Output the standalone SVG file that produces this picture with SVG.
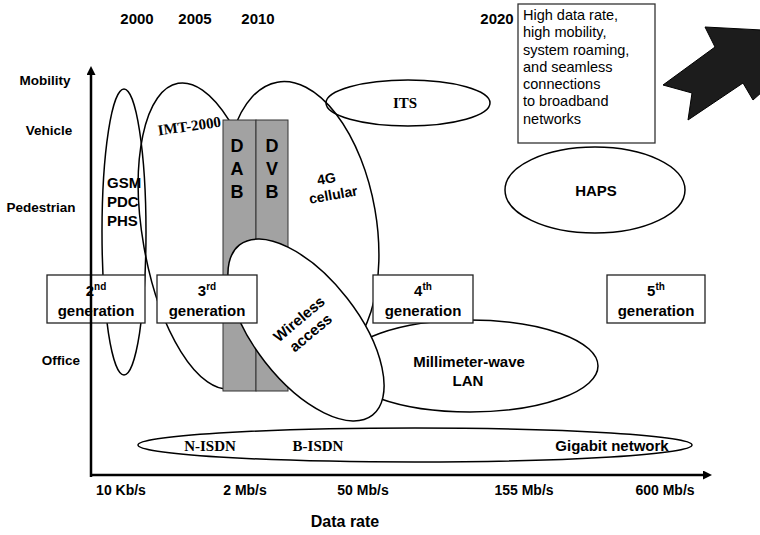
<svg xmlns="http://www.w3.org/2000/svg" width="760" height="535" viewBox="0 0 760 535">
<defs>
<style>
.b{font-family:"Liberation Sans",Arial,sans-serif;font-weight:bold;fill:#000}
.s{font-family:"Liberation Serif","Times New Roman",serif;font-weight:bold;fill:#000}
.n{font-family:"Liberation Sans",Arial,sans-serif;fill:#000}
.el{fill:none;stroke:#000;stroke-width:1.5}
.wf{fill:#fff;stroke:#000;stroke-width:1.5}
.box{fill:#fff;stroke:#222;stroke-width:1.3}
.gray{fill:#a2a2a2;stroke:#333;stroke-width:1}
.ax{stroke:#000;stroke-width:2.5;fill:none}
</style>
<marker id="ah" viewBox="0 0 10 10" refX="0" refY="5" markerWidth="10" markerHeight="9" markerUnits="userSpaceOnUse" orient="auto">
<path d="M0,0 L10,5 L0,10 z" fill="#000"/>
</marker>
</defs>
<rect width="760" height="535" fill="#fff"/>

<g id="years" class="b" font-size="15" text-anchor="middle">
<text x="137" y="24">2000</text>
<text x="195" y="24">2005</text>
<text x="258" y="24">2010</text>
<text x="497" y="24">2020</text>
</g>

<g id="y-labels" class="b" font-size="13.5" text-anchor="middle">
<text x="45" y="85">Mobility</text>
<text x="49" y="135">Vehicle</text>
<text x="41" y="212">Pedestrian</text>
<text x="61" y="365">Office</text>
</g>

<g id="gsm">
<ellipse class="el" cx="124" cy="232" rx="22" ry="143"/>
<text class="b" font-size="15"><tspan x="107" y="188">GSM</tspan><tspan x="107" y="207">PDC</tspan><tspan x="107" y="226">PHS</tspan></text>
</g>

<g id="imt2000">
<ellipse class="el" cx="205" cy="236" rx="62" ry="155" transform="rotate(-10 205 236)"/>
<text class="s" font-size="15" text-anchor="middle" transform="translate(190 131) rotate(-8)">IMT-2000</text>
</g>

<g id="cellular4g">
<ellipse class="el" cx="302" cy="222" rx="74" ry="142" transform="rotate(-10 302 222)"/>
<g transform="translate(330 188) rotate(-10)">
<text class="b" font-size="14" text-anchor="middle" x="-2" y="-5">4G</text>
<text class="b" font-size="14" text-anchor="middle" x="2" y="12">cellular</text>
</g>
</g>

<g id="its">
<ellipse class="el" cx="408" cy="103" rx="82" ry="23"/>
<text class="s" font-size="15" text-anchor="middle" x="405" y="108">ITS</text>
</g>

<g id="haps">
<ellipse class="el" cx="595" cy="190" rx="90" ry="43"/>
<text class="b" font-size="15" text-anchor="middle" x="596" y="196">HAPS</text>
</g>

<g id="dab">
<rect class="gray" x="223" y="120" width="33" height="271"/>
<text class="b" font-size="18" text-anchor="middle"><tspan x="237" y="152">D</tspan><tspan x="237" y="175">A</tspan><tspan x="237" y="198">B</tspan></text>
</g>
<g id="dvb">
<rect class="gray" x="256" y="120" width="32" height="271"/>
<text class="b" font-size="18" text-anchor="middle"><tspan x="272" y="152">D</tspan><tspan x="272" y="175">V</tspan><tspan x="272" y="198">B</tspan></text>
</g>

<g id="mmwave-lan">
<ellipse class="el" cx="470" cy="366" rx="128" ry="46"/>
<text class="b" font-size="15" text-anchor="middle"><tspan x="469" y="367">Millimeter-wave</tspan><tspan x="468" y="386">LAN</tspan></text>
</g>

<g id="wireless">
<ellipse class="wf" cx="306" cy="330" rx="108" ry="52" transform="rotate(52 306 330)"/>
<g transform="translate(305 326) rotate(-40)">
<text class="b" font-size="15" text-anchor="middle" x="0" y="-4">Wireless</text>
<text class="b" font-size="15" text-anchor="middle" x="0" y="14">access</text>
</g>
</g>

<g id="gen2">
<rect class="box" x="47" y="275" width="98" height="48"/>
<text class="b" font-size="15" text-anchor="middle" x="96" y="296">2<tspan font-size="10" dy="-6">nd</tspan></text>
<text class="b" font-size="15" text-anchor="middle" x="96" y="316">generation</text>
</g>
<g id="gen3">
<rect class="box" x="157" y="275" width="100" height="48"/>
<text class="b" font-size="15" text-anchor="middle" x="207" y="296">3<tspan font-size="10" dy="-6">rd</tspan></text>
<text class="b" font-size="15" text-anchor="middle" x="207" y="316">generation</text>
</g>
<g id="gen4">
<rect class="box" x="373" y="275" width="100" height="48"/>
<text class="b" font-size="15" text-anchor="middle" x="423" y="296">4<tspan font-size="10" dy="-6">th</tspan></text>
<text class="b" font-size="15" text-anchor="middle" x="423" y="316">generation</text>
</g>
<g id="gen5">
<rect class="box" x="607" y="275" width="98" height="48"/>
<text class="b" font-size="15" text-anchor="middle" x="656" y="296">5<tspan font-size="10" dy="-6">th</tspan></text>
<text class="b" font-size="15" text-anchor="middle" x="656" y="316">generation</text>
</g>

<g id="networks">
<ellipse class="el" cx="415" cy="445" rx="277" ry="17"/>
<text class="s" font-size="15" text-anchor="middle" x="210" y="451">N-ISDN</text>
<text class="s" font-size="15" text-anchor="middle" x="318" y="451">B-ISDN</text>
<text class="b" font-size="15" text-anchor="middle" x="612" y="451">Gigabit network</text>
</g>

<g id="note">
<rect x="518" y="4" width="137" height="139" fill="#fff" stroke="#333" stroke-width="1.3"/>
<text class="n" font-size="14.5">
<tspan x="523" y="20">High data rate,</tspan>
<tspan x="523" y="37">high mobility,</tspan>
<tspan x="523" y="55">system roaming,</tspan>
<tspan x="523" y="72">and seamless</tspan>
<tspan x="523" y="89">connections</tspan>
<tspan x="523" y="106">to broadband</tspan>
<tspan x="523" y="124">networks</tspan>
</text>
</g>

<g id="big-arrow">
<polygon points="705,27 762,30 762,92 753,100 743,83 688,120 692,93 663,85 715,47" fill="#1c1c1c" stroke="#000" stroke-width="1"/>
</g>

<g id="connectors">
<line class="ax" x1="91" y1="477" x2="91" y2="75" marker-end="url(#ah)"/>
<line class="ax" x1="90" y1="475" x2="703" y2="475" marker-end="url(#ah)"/>
</g>

<g id="x-labels" class="b" font-size="14" text-anchor="middle">
<text x="121" y="495">10 Kb/s</text>
<text x="245" y="495">2 Mb/s</text>
<text x="363" y="495">50 Mb/s</text>
<text x="524" y="495">155 Mb/s</text>
<text x="665" y="495">600 Mb/s</text>
<text x="345" y="527" font-size="16">Data rate</text>
</g>
</svg>
